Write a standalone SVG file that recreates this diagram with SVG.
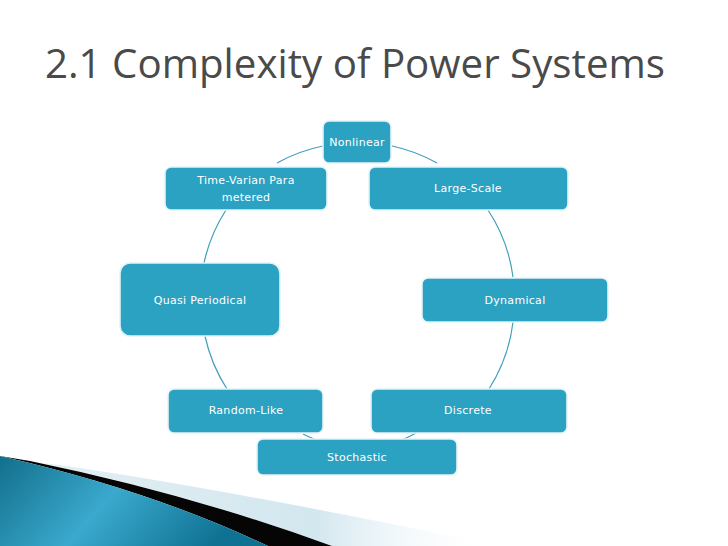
<svg xmlns="http://www.w3.org/2000/svg" width="728" height="546" viewBox="0 0 728 546">
<defs>
<style>
.node{fill:#2ca2c2;stroke:#e4f3f8;stroke-width:1.6}
.shadow{fill:none;stroke:#a9d6e4;stroke-width:1}
.lbl{font-family:"DejaVu Sans",Verdana,sans-serif;font-size:11px;fill:#ffffff;text-anchor:middle;letter-spacing:0.3px}
.conn{fill:none;stroke:#3f9fba;stroke-width:1.2}
</style>
<linearGradient id="blueg" x1="0" y1="0" x2="1" y2="0.3">
<stop offset="0" stop-color="#126f8c"/>
<stop offset="0.5" stop-color="#3aa9cd"/>
<stop offset="1" stop-color="#0f7293"/>
</linearGradient>
<linearGradient id="lightg" x1="0" y1="0" x2="1" y2="0">
<stop offset="0" stop-color="#e3eff3"/>
<stop offset="0.6" stop-color="#d3e7ef"/>
<stop offset="1" stop-color="#ffffff" stop-opacity="0"/>
</linearGradient>
</defs>
<rect width="728" height="546" fill="#ffffff"/>
<g id="swoosh">
<path d="M60,465 Q230,490 500,546 L332,546 Q190,494 40,463 Z" fill="url(#lightg)"/>
<path d="M30,461 Q190,494 332,546 L268,546 Q150,490 0,456 Z" fill="#050505"/>
<path d="M0,456 Q150,490 268,546 L0,546 Z" fill="url(#blueg)"/>
</g>
<text x="355" y="78" font-family="'Open Sans','DejaVu Sans',sans-serif" font-size="40" fill="#4a4a4a" text-anchor="middle" textLength="620" lengthAdjust="spacingAndGlyphs">2.1 Complexity of Power Systems</text>
<g id="connectors">
<path class="conn" d="M277,163 A159,159 0 0 1 323,146"/>
<path class="conn" d="M392,146 A159,159 0 0 1 437,163"/>
<path class="conn" d="M488,210 A159,159 0 0 1 513,277"/>
<path class="conn" d="M513,322 A159,159 0 0 1 489,389"/>
<path class="conn" d="M416,433 A159,159 0 0 1 404,439"/>
<path class="conn" d="M314,439 A159,159 0 0 1 303,434"/>
<path class="conn" d="M227,389 A159,159 0 0 1 205,336"/>
<path class="conn" d="M204,263 A159,159 0 0 1 226,210"/>
</g>
<g id="n-nonlinear">
<rect class="node" x="323" y="121" width="68" height="42" rx="6"/>
<text class="lbl" x="357" y="146">Nonlinear</text>
</g>
<g id="n-largescale">
<rect class="node" x="369" y="167" width="199" height="43" rx="6"/>
<text class="lbl" x="468" y="192">Large-Scale</text>
</g>
<g id="n-dynamical">
<rect class="node" x="422" y="278" width="186" height="44" rx="6"/>
<text class="lbl" x="515" y="304">Dynamical</text>
</g>
<g id="n-discrete">
<rect class="node" x="371" y="389" width="196" height="44" rx="6"/>
<text class="lbl" x="468" y="414">Discrete</text>
</g>
<g id="n-stochastic">
<rect class="node" x="257" y="439" width="200" height="36" rx="6"/>
<text class="lbl" x="357" y="461">Stochastic</text>
</g>
<g id="n-randomlike">
<rect class="node" x="168" y="389" width="155" height="44" rx="6"/>
<text class="lbl" x="246" y="414">Random-Like</text>
</g>
<g id="n-quasi">
<rect class="node" x="120" y="263" width="160" height="73" rx="10"/>
<text class="lbl" x="200" y="304">Quasi Periodical</text>
</g>
<g id="n-timevarian">
<rect class="node" x="165" y="167" width="162" height="43" rx="6"/>
<text class="lbl" x="246" y="184">Time-Varian Para</text>
<text class="lbl" x="246" y="201">metered</text>
</g>
</svg>
